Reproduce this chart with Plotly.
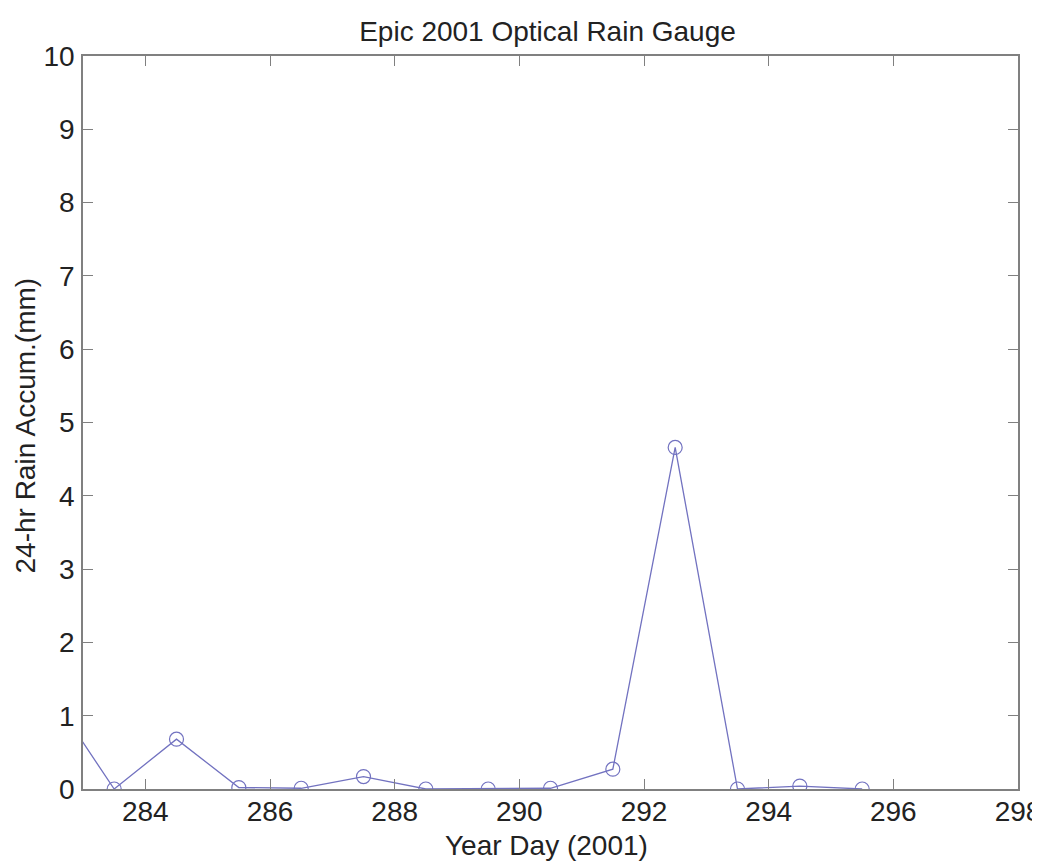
import plotly.graph_objects as go

days = [282.5, 283.5, 284.5, 285.5, 286.5, 287.5, 288.5, 289.5, 290.5, 291.5, 292.5, 293.5, 294.5, 295.5]
rain = [1.27, 0.0, 0.68, 0.02, 0.01, 0.17, 0.0, 0.0, 0.01, 0.27, 4.66, 0.0, 0.04, 0.0]

x_ticks = [284, 286, 288, 290, 292, 294, 296, 298]
y_ticks = [0, 1, 2, 3, 4, 5, 6, 7, 8, 9, 10]

font_family = "Liberation Sans, Arial, sans-serif"
text_color = "#222222"
axis_color = "#808080"
line_color = "#7272c0"

fig = go.Figure()
fig.add_trace(go.Scatter(
    x=days, y=rain, mode="lines+markers",
    line=dict(color=line_color, width=1.3),
    marker=dict(symbol="circle-open", size=14, color=line_color, line=dict(width=1.2)),
    showlegend=False,
))

fig.update_layout(
    width=1040, height=863,
    margin=dict(l=75, r=30, t=48, b=82),
    paper_bgcolor="white", plot_bgcolor="white",
    font=dict(family=font_family, size=28, color=text_color),
    title=dict(text="Epic 2001 Optical Rain Gauge", xref="paper", x=0.4968, xanchor="center",
               y=1 - 23 / 863, yanchor="middle", font=dict(size=28, color=text_color)),
    xaxis=dict(
        range=[283, 298], tickvals=x_ticks, ticktext=[str(v) for v in x_ticks],
        ticks="inside", ticklen=10, tickcolor=axis_color, tickwidth=1,
        showline=True, linecolor=axis_color, linewidth=1.5, mirror="ticks",
        showgrid=False, zeroline=False, ticklabelstandoff=-3, automargin=False,
        tickfont=dict(size=28),
    ),
    yaxis=dict(
        range=[0, 10], tickvals=y_ticks, ticktext=[str(v) for v in y_ticks],
        ticks="inside", ticklen=10, tickcolor=axis_color, tickwidth=1,
        showline=True, linecolor=axis_color, linewidth=1.5, mirror="ticks",
        showgrid=False, zeroline=False, ticklabelstandoff=1, automargin=False,
        tickfont=dict(size=28),
    ),
    annotations=[
        dict(text="Year Day (2001)", xref="paper", yref="paper", x=0.5, y=0,
             xshift=-4, yshift=-56, xanchor="center", yanchor="middle",
             showarrow=False, font=dict(size=28, color=text_color)),
        dict(text="24-hr Rain Accum.(mm)", xref="paper", yref="paper", x=0, y=0.5,
             xshift=-58, yshift=-3, xanchor="center", yanchor="middle", textangle=-90,
             showarrow=False, font=dict(size=28, color=text_color)),
    ],
)

fig.write_html("out.html")
